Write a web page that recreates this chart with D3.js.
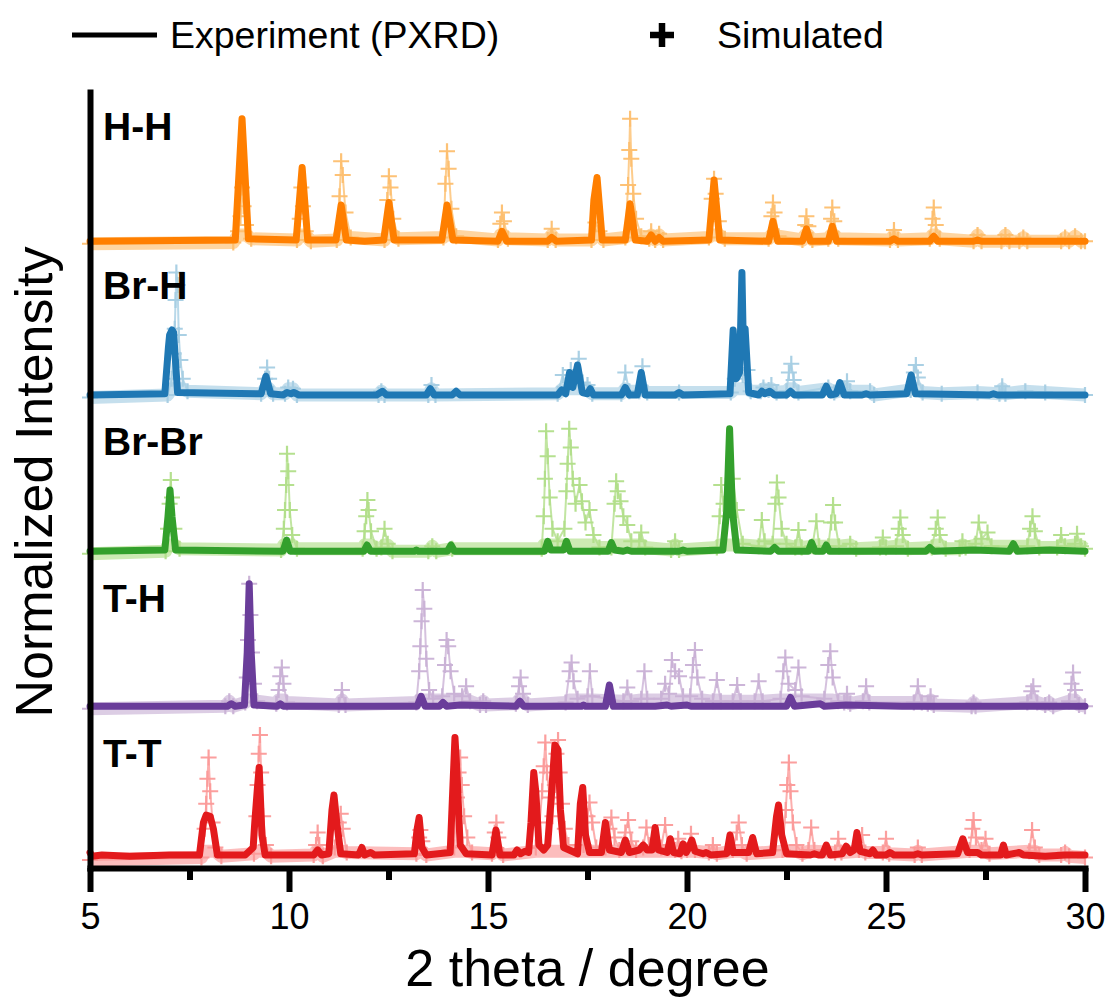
<!DOCTYPE html>
<html><head><meta charset="utf-8">
<script src="https://cdn.jsdelivr.net/npm/d3@7"></script>
<style>
body{margin:0;background:#fff}
text{font-family:"Liberation Sans",Arial,Helvetica,sans-serif;fill:#000}
</style>
</head><body>
<svg id="chart" width="1109" height="1007"></svg>
<script>
// PXRD patterns, 2θ (degree) vs. normalized intensity, one pair per compound.
const panelNames = ["H-H", "Br-H", "Br-Br", "T-H", "T-T"];
const panelOffsets = [4.93, 3.70, 2.45, 1.21, 0];
const xTicks = [5, 10, 15, 20, 25, 30];
const xMinorTicks = [7.5, 12.5, 17.5, 22.5, 27.5];

const hhExp = [[5,0.02],[8.65,0.03],[8.82,1.0],[8.98,0.04],[10.18,0.03],[10.33,0.61],[10.47,0.03],[11.18,0.03],[11.31,0.31],[11.44,0.03],[11.9,0.02],[12.38,0.03],[12.51,0.33],[12.64,0.03],[13.84,0.03],[13.97,0.31],[14.12,0.03],[15.25,0.02],[15.35,0.1],[15.47,0.02],[16.5,0.02],[16.6,0.05],[16.72,0.02],[17.6,0.03],[17.66,0.35],[17.74,0.53],[17.87,0.03],[18.45,0.03],[18.57,0.32],[18.7,0.03],[19.0,0.02],[19.1,0.07],[19.2,0.02],[19.3,0.05],[19.4,0.02],[20.55,0.03],[20.68,0.51],[20.82,0.03],[22.05,0.02],[22.16,0.18],[22.28,0.02],[22.9,0.02],[23.0,0.12],[23.1,0.02],[23.55,0.02],[23.65,0.14],[23.76,0.02],[25.1,0.02],[25.2,0.04],[25.3,0.02],[26.1,0.02],[26.2,0.06],[26.3,0.02],[27.2,0.02],[27.3,0.03],[27.4,0.02],[30,0.02]];
const hhSim = [[5,0],[8.6,0.01],[8.72,0.1],[8.78,0.22],[8.82,0.45],[8.86,0.3],[8.92,0.15],[9.05,0.04],[10.2,0.03],[10.27,0.2],[10.31,0.45],[10.35,0.3],[10.42,0.1],[10.55,0.02],[11.2,0.03],[11.27,0.38],[11.31,0.66],[11.35,0.55],[11.42,0.25],[11.55,0.05],[12.4,0.03],[12.47,0.35],[12.51,0.54],[12.55,0.45],[12.62,0.2],[12.75,0.04],[13.88,0.05],[13.93,0.48],[13.97,0.74],[14.01,0.6],[14.08,0.28],[14.2,0.06],[15.25,0.03],[15.31,0.16],[15.35,0.25],[15.4,0.18],[15.5,0.04],[16.5,0.03],[16.6,0.12],[16.7,0.03],[17.6,0.03],[17.7,0.17],[17.8,0.1],[17.9,0.03],[18.45,0.05],[18.52,0.47],[18.55,0.75],[18.57,1.0],[18.6,0.68],[18.65,0.4],[18.72,0.2],[18.85,0.06],[19.05,0.04],[19.1,0.1],[19.2,0.03],[19.3,0.08],[19.4,0.03],[20.55,0.05],[20.62,0.36],[20.68,0.52],[20.72,0.4],[20.8,0.18],[20.95,0.04],[22.05,0.04],[22.12,0.22],[22.16,0.33],[22.2,0.25],[22.3,0.06],[22.9,0.03],[22.97,0.15],[23.0,0.22],[23.05,0.14],[23.15,0.03],[23.55,0.04],[23.62,0.2],[23.65,0.29],[23.7,0.18],[23.8,0.04],[25.1,0.03],[25.2,0.11],[25.3,0.03],[26.1,0.04],[26.17,0.2],[26.2,0.29],[26.25,0.15],[26.35,0.04],[27.2,0.02],[27.3,0.07],[27.4,0.02],[27.9,0.02],[28.0,0.07],[28.1,0.02],[28.35,0.02],[28.45,0.05],[28.55,0.02],[29.4,0.02],[29.5,0.05],[29.6,0.02],[29.75,0.06],[29.9,0.02],[30,0.02]];

const brhExp = [[5,0.02],[6.88,0.03],[6.97,0.4],[7.0,0.5],[7.06,0.54],[7.1,0.52],[7.2,0.04],[9.3,0.03],[9.42,0.17],[9.54,0.03],[9.85,0.02],[9.95,0.04],[10.05,0.03],[10.12,0.04],[10.25,0.02],[12.2,0.02],[12.35,0.05],[12.45,0.02],[13.45,0.02],[13.55,0.07],[13.65,0.02],[14.1,0.02],[14.2,0.05],[14.3,0.02],[16.75,0.02],[16.85,0.06],[16.95,0.03],[17.05,0.2],[17.13,0.08],[17.25,0.26],[17.37,0.04],[17.5,0.03],[17.57,0.07],[17.65,0.02],[18.35,0.02],[18.45,0.08],[18.55,0.02],[18.75,0.02],[18.85,0.2],[18.95,0.02],[19.7,0.02],[19.8,0.04],[19.9,0.02],[21.08,0.03],[21.16,0.54],[21.24,0.15],[21.32,0.2],[21.38,1.0],[21.42,0.35],[21.46,0.55],[21.55,0.04],[21.8,0.02],[21.88,0.05],[21.95,0.03],[22.08,0.05],[22.2,0.02],[22.5,0.02],[22.6,0.05],[22.7,0.02],[23.4,0.02],[23.5,0.09],[23.6,0.02],[23.75,0.03],[23.84,0.12],[23.95,0.02],[24.4,0.02],[24.5,0.03],[24.6,0.02],[25.52,0.03],[25.63,0.18],[25.74,0.03],[27.6,0.02],[27.7,0.03],[27.8,0.02],[30,0.02]];
const brhSim = [[5,0],[6.95,0.02],[7.05,0.15],[7.1,0.35],[7.13,0.55],[7.15,0.78],[7.17,1.0],[7.2,0.9],[7.23,0.5],[7.27,0.3],[7.33,0.15],[7.45,0.05],[9.3,0.03],[9.4,0.15],[9.45,0.24],[9.5,0.15],[9.6,0.03],[9.9,0.03],[9.98,0.08],[10.1,0.07],[10.2,0.02],[12.25,0.02],[12.32,0.05],[12.4,0.02],[13.5,0.02],[13.58,0.1],[13.68,0.02],[16.75,0.03],[16.88,0.18],[16.98,0.08],[17.08,0.22],[17.18,0.15],[17.28,0.31],[17.38,0.12],[17.5,0.1],[17.62,0.03],[18.35,0.03],[18.45,0.2],[18.55,0.05],[18.8,0.05],[18.88,0.25],[19.0,0.04],[19.8,0.04],[21.1,0.04],[21.2,0.15],[21.4,0.18],[21.52,0.22],[21.6,0.05],[21.85,0.05],[21.92,0.08],[22.05,0.06],[22.12,0.1],[22.25,0.04],[22.5,0.05],[22.56,0.2],[22.62,0.27],[22.68,0.14],[22.8,0.04],[23.55,0.08],[23.7,0.04],[23.95,0.06],[24.02,0.13],[24.1,0.05],[24.6,0.05],[24.7,0.02],[25.62,0.06],[25.7,0.2],[25.75,0.26],[25.8,0.16],[25.92,0.04],[26.4,0.03],[27.3,0.04],[27.85,0.03],[27.92,0.09],[28.0,0.03],[28.5,0.05],[29.0,0.04],[30,0.02]];

const brbrExp = [[5,0.02],[6.88,0.03],[6.96,0.3],[7.01,0.51],[7.06,0.3],[7.15,0.03],[9.85,0.02],[9.94,0.11],[10.03,0.02],[11.88,0.02],[11.96,0.07],[12.05,0.02],[13.15,0.02],[13.2,0.03],[13.25,0.02],[13.98,0.02],[14.07,0.07],[14.16,0.02],[16.42,0.02],[16.5,0.1],[16.58,0.03],[16.9,0.03],[16.97,0.1],[17.06,0.02],[18.02,0.02],[18.1,0.09],[18.18,0.03],[18.4,0.02],[18.5,0.03],[18.6,0.02],[19.8,0.02],[19.9,0.03],[20.0,0.02],[20.9,0.03],[21.0,0.35],[21.07,1.0],[21.14,0.35],[21.25,0.03],[22.1,0.02],[22.2,0.05],[22.3,0.02],[23.05,0.02],[23.13,0.09],[23.22,0.02],[23.42,0.02],[23.5,0.07],[23.58,0.02],[25.1,0.02],[25.2,0.02],[26.0,0.02],[26.1,0.05],[26.2,0.02],[27.2,0.03],[28.1,0.02],[28.2,0.08],[28.3,0.02],[29.1,0.03],[30,0.02]];
const brbrSim = [[5,0],[6.9,0.02],[6.96,0.2],[7.0,0.4],[7.03,0.59],[7.06,0.45],[7.12,0.2],[7.25,0.04],[9.8,0.03],[9.87,0.2],[9.9,0.35],[9.93,0.55],[9.95,0.8],[9.98,0.66],[10.02,0.35],[10.08,0.15],[10.2,0.04],[11.85,0.04],[11.9,0.18],[11.94,0.3],[11.97,0.43],[12.0,0.35],[12.06,0.18],[12.2,0.04],[12.32,0.05],[12.4,0.2],[12.48,0.08],[12.6,0.02],[13.5,0.02],[13.6,0.06],[13.7,0.02],[14.1,0.04],[16.35,0.04],[16.4,0.3],[16.43,0.6],[16.46,0.98],[16.5,0.78],[16.55,0.45],[16.62,0.2],[16.75,0.1],[16.92,0.2],[16.97,0.5],[17.0,0.72],[17.04,1.0],[17.08,0.85],[17.13,0.6],[17.2,0.4],[17.3,0.55],[17.36,0.42],[17.45,0.25],[17.55,0.35],[17.65,0.15],[17.8,0.05],[18.1,0.05],[18.18,0.4],[18.22,0.58],[18.26,0.5],[18.33,0.42],[18.4,0.3],[18.5,0.23],[18.6,0.1],[18.8,0.1],[18.85,0.17],[18.95,0.05],[19.6,0.03],[19.7,0.1],[19.8,0.03],[20.75,0.05],[20.82,0.3],[20.86,0.55],[20.92,0.4],[21.0,0.3],[21.15,0.6],[21.25,0.35],[21.4,0.08],[21.8,0.06],[21.88,0.27],[21.95,0.1],[22.15,0.08],[22.22,0.4],[22.26,0.57],[22.3,0.45],[22.38,0.2],[22.5,0.08],[22.72,0.05],[22.8,0.19],[22.88,0.05],[23.15,0.06],[23.25,0.26],[23.32,0.06],[23.55,0.06],[23.62,0.25],[23.67,0.39],[23.72,0.25],[23.82,0.06],[24.1,0.08],[24.25,0.04],[24.85,0.05],[24.92,0.13],[25.0,0.05],[25.25,0.06],[25.32,0.2],[25.36,0.29],[25.42,0.15],[25.55,0.04],[26.15,0.05],[26.25,0.2],[26.3,0.29],[26.35,0.15],[26.5,0.04],[26.85,0.04],[26.92,0.1],[27.0,0.05],[27.25,0.08],[27.33,0.25],[27.4,0.12],[27.55,0.17],[27.65,0.06],[28.55,0.06],[28.62,0.2],[28.68,0.3],[28.74,0.18],[28.85,0.05],[29.3,0.05],[29.4,0.15],[29.5,0.06],[29.75,0.08],[29.8,0.16],[29.9,0.06],[30,0.04]];

const thExp = [[5,0.02],[8.45,0.02],[8.55,0.04],[8.65,0.02],[8.88,0.03],[8.95,0.45],[9.0,1.0],[9.05,0.45],[9.12,0.03],[9.7,0.02],[9.78,0.04],[9.86,0.02],[11.25,0.02],[11.3,0.02],[13.22,0.02],[13.32,0.1],[13.42,0.02],[13.78,0.02],[13.87,0.05],[13.96,0.02],[14.3,0.03],[15.7,0.02],[15.8,0.06],[15.9,0.02],[17.35,0.02],[17.4,0.03],[17.45,0.02],[17.95,0.02],[18.05,0.19],[18.15,0.02],[19.2,0.02],[19.5,0.03],[19.6,0.02],[20.0,0.03],[20.1,0.02],[22.5,0.02],[22.6,0.09],[22.7,0.02],[23.35,0.04],[23.45,0.02],[24.0,0.03],[25.4,0.02],[27.2,0.02],[30,0.02]];
const thSim = [[5,0],[8.4,0.02],[8.5,0.06],[8.6,0.02],[8.9,0.05],[8.94,0.25],[8.97,0.55],[9.0,1.0],[9.03,0.75],[9.07,0.45],[9.12,0.2],[9.2,0.06],[9.68,0.04],[9.74,0.15],[9.78,0.26],[9.82,0.33],[9.86,0.2],[9.95,0.05],[11.25,0.03],[11.33,0.15],[11.42,0.03],[13.2,0.05],[13.27,0.3],[13.3,0.5],[13.33,0.7],[13.36,0.95],[13.4,0.8],[13.45,0.4],[13.52,0.15],[13.62,0.08],[13.85,0.1],[13.92,0.35],[13.96,0.55],[14.0,0.5],[14.06,0.3],[14.15,0.12],[14.35,0.1],[14.45,0.18],[14.55,0.06],[14.8,0.03],[14.88,0.06],[14.95,0.03],[15.7,0.04],[15.78,0.18],[15.82,0.25],[15.88,0.12],[16.0,0.03],[16.95,0.05],[17.05,0.3],[17.1,0.37],[17.15,0.22],[17.25,0.08],[17.5,0.1],[17.56,0.3],[17.62,0.1],[18.4,0.06],[18.5,0.17],[18.6,0.06],[18.85,0.08],[18.93,0.3],[19.0,0.08],[19.35,0.08],[19.45,0.2],[19.55,0.12],[19.62,0.39],[19.7,0.3],[19.8,0.26],[19.9,0.1],[20.08,0.1],[20.15,0.35],[20.2,0.47],[20.26,0.25],[20.38,0.08],[20.65,0.06],[20.75,0.23],[20.85,0.06],[21.15,0.06],[21.26,0.19],[21.35,0.06],[21.7,0.06],[21.8,0.22],[21.9,0.06],[22.35,0.08],[22.42,0.3],[22.47,0.41],[22.55,0.2],[22.72,0.15],[22.8,0.33],[22.88,0.1],[23.45,0.08],[23.55,0.35],[23.6,0.46],[23.66,0.25],[23.8,0.06],[23.95,0.05],[24.02,0.12],[24.1,0.04],[24.42,0.06],[24.5,0.18],[24.58,0.05],[25.7,0.05],[25.8,0.18],[25.9,0.05],[26.05,0.04],[26.12,0.1],[26.2,0.03],[27.15,0.02],[27.2,0.05],[27.25,0.02],[28.55,0.05],[28.65,0.14],[28.7,0.18],[28.8,0.05],[29.0,0.03],[29.1,0.05],[29.2,0.02],[29.6,0.06],[29.66,0.2],[29.7,0.29],[29.75,0.15],[29.85,0.03],[30,0.02]];

const ttExp = [[5,0.06],[5.05,0.03],[5.3,0.04],[6.0,0.03],[7.0,0.04],[7.75,0.04],[7.85,0.3],[7.92,0.36],[8.02,0.35],[8.1,0.25],[8.2,0.04],[8.9,0.04],[9.1,0.1],[9.14,0.3],[9.2,0.55],[9.25,0.74],[9.32,0.2],[9.4,0.04],[10.62,0.04],[10.72,0.08],[10.82,0.04],[11.0,0.05],[11.08,0.4],[11.13,0.52],[11.2,0.3],[11.3,0.05],[11.75,0.04],[11.83,0.1],[11.9,0.04],[12.05,0.06],[12.15,0.04],[13.15,0.05],[13.22,0.25],[13.27,0.34],[13.34,0.1],[13.45,0.04],[14.05,0.06],[14.12,0.6],[14.17,0.98],[14.22,0.7],[14.3,0.12],[14.45,0.05],[15.1,0.04],[15.2,0.24],[15.3,0.04],[15.65,0.04],[15.73,0.08],[15.82,0.05],[15.93,0.07],[16.02,0.06],[16.08,0.3],[16.15,0.7],[16.2,0.55],[16.28,0.12],[16.4,0.08],[16.5,0.12],[16.6,0.55],[16.68,0.92],[16.76,0.88],[16.82,0.4],[16.9,0.1],[17.25,0.05],[17.32,0.45],[17.38,0.58],[17.45,0.2],[17.55,0.06],[17.85,0.06],[17.95,0.3],[18.05,0.08],[18.35,0.06],[18.45,0.16],[18.55,0.06],[18.8,0.08],[18.9,0.12],[19.0,0.08],[19.12,0.08],[19.2,0.26],[19.28,0.08],[19.5,0.06],[19.58,0.17],[19.66,0.06],[19.82,0.05],[19.9,0.13],[19.98,0.06],[20.05,0.1],[20.12,0.16],[20.2,0.07],[20.4,0.05],[20.48,0.06],[20.6,0.04],[21.0,0.05],[21.08,0.2],[21.16,0.06],[21.55,0.06],[21.65,0.18],[21.75,0.05],[22.15,0.06],[22.25,0.35],[22.3,0.44],[22.38,0.2],[22.5,0.05],[23.1,0.04],[23.2,0.05],[23.3,0.04],[23.4,0.04],[23.5,0.12],[23.6,0.04],[23.9,0.05],[24.0,0.11],[24.1,0.06],[24.2,0.08],[24.27,0.22],[24.35,0.07],[24.6,0.05],[24.67,0.08],[24.75,0.04],[25.0,0.04],[25.1,0.06],[25.2,0.04],[25.7,0.04],[25.8,0.05],[25.9,0.04],[26.8,0.05],[26.93,0.17],[27.05,0.06],[27.3,0.06],[27.4,0.04],[27.88,0.04],[27.95,0.12],[28.02,0.04],[28.35,0.06],[28.45,0.04],[29.0,0.03],[29.5,0.04],[30,0.04]];
const ttSim = [[5,0],[7.8,0.02],[7.88,0.25],[7.92,0.45],[7.95,0.65],[7.98,0.82],[8.02,0.55],[8.08,0.3],[8.15,0.1],[8.3,0.03],[9.12,0.05],[9.18,0.35],[9.21,0.6],[9.24,0.85],[9.27,1.0],[9.3,0.7],[9.35,0.35],[9.42,0.12],[9.55,0.03],[10.62,0.04],[10.68,0.12],[10.72,0.22],[10.76,0.12],[10.85,0.03],[11.15,0.1],[11.25,0.3],[11.3,0.37],[11.35,0.25],[11.45,0.06],[13.2,0.05],[13.27,0.18],[13.3,0.24],[13.35,0.15],[13.45,0.04],[14.15,0.1],[14.22,0.5],[14.26,0.7],[14.3,0.82],[14.34,0.6],[14.4,0.35],[14.48,0.18],[14.6,0.06],[15.1,0.05],[15.17,0.22],[15.21,0.3],[15.26,0.18],[15.38,0.04],[16.2,0.1],[16.3,0.3],[16.36,0.55],[16.4,0.75],[16.44,0.94],[16.48,0.7],[16.55,0.5],[16.62,0.35],[16.68,0.6],[16.72,0.85],[16.76,0.96],[16.8,0.7],[16.86,0.45],[16.93,0.25],[17.02,0.12],[17.4,0.12],[17.5,0.35],[17.55,0.46],[17.62,0.3],[17.72,0.1],[17.95,0.1],[18.05,0.25],[18.1,0.34],[18.18,0.18],[18.3,0.08],[18.45,0.22],[18.52,0.32],[18.6,0.15],[18.72,0.08],[18.9,0.1],[18.98,0.26],[19.05,0.12],[19.35,0.1],[19.45,0.28],[19.52,0.12],[19.7,0.08],[19.78,0.17],[19.86,0.07],[20.0,0.08],[20.1,0.21],[20.2,0.08],[20.55,0.06],[20.65,0.12],[20.75,0.05],[21.15,0.08],[21.25,0.22],[21.3,0.3],[21.38,0.12],[21.5,0.05],[22.4,0.08],[22.48,0.4],[22.52,0.6],[22.56,0.78],[22.6,0.55],[22.66,0.3],[22.75,0.12],[22.9,0.05],[23.05,0.08],[23.12,0.26],[23.2,0.08],[23.72,0.06],[23.8,0.17],[23.88,0.06],[24.32,0.08],[24.4,0.2],[24.48,0.06],[24.92,0.06],[25.0,0.17],[25.08,0.05],[25.72,0.04],[25.8,0.1],[25.9,0.04],[27.1,0.08],[27.17,0.25],[27.2,0.32],[27.26,0.18],[27.4,0.08],[27.5,0.17],[27.6,0.05],[28.6,0.07],[28.67,0.24],[28.74,0.1],[28.85,0.04],[29.4,0.04],[29.5,0.06],[29.6,0.03],[30,0.02]];

const experimentSeries = [hhExp, brhExp, brbrExp, thExp, ttExp];
const simulatedSeries = [hhSim, brhSim, brbrSim, thSim, ttSim];

// Paired palette: dark tone for measured, light tone for simulated
const expColors = ["#ff7f00", "#1f78b4", "#33a02c", "#6a3d9a", "#e31a1c"];
const simColors = ["#fdbf6f", "#a6cee3", "#b2df8a", "#cab2d6", "#fb9a99"];

const svg = d3.select("#chart");
const plotLeft = 90, plotRight = 1085, plotTop = 92, plotBottom = 868;
// the soft background band only follows the low part of the simulated profile
const bandCap = 0.07;

const x = d3.scaleLinear().domain([5, 30]).range([plotLeft, plotRight]);
const y = d3.scaleLinear().domain([-0.064, 6.144]).range([plotBottom, plotTop]);

const plot = svg.append("g");

panelNames.forEach((name, i) => {
  const off = panelOffsets[i];
  const line = d3.line().x(d => x(d[0])).y(d => y(d[1] + off));
  const bandLine = d3.line().x(d => x(d[0])).y(d => y(Math.min(d[1], bandCap) + off));
  const g = plot.append("g");

  // simulated pattern: soft band, thin profile and "+" markers
  g.append("path")
    .datum(simulatedSeries[i])
    .attr("d", bandLine)
    .attr("fill", "none")
    .attr("stroke", simColors[i])
    .attr("stroke-width", 13)
    .attr("stroke-linejoin", "round")
    .attr("opacity", 0.65);

  g.append("path")
    .datum(simulatedSeries[i])
    .attr("d", line)
    .attr("fill", "none")
    .attr("stroke", simColors[i])
    .attr("stroke-width", 2)
    .attr("stroke-linejoin", "round")
    .attr("opacity", 0.8);

  g.append("g").selectAll("path")
    .data(simulatedSeries[i])
    .join("path")
    .attr("transform", d => `translate(${x(d[0])},${y(d[1] + off)})`)
    .attr("d", "M-8,0H8M0,-8V8")
    .attr("stroke", simColors[i])
    .attr("stroke-width", 2.2)
    .attr("opacity", 0.95);

  // measured pattern
  g.append("path")
    .datum(experimentSeries[i])
    .attr("d", line)
    .attr("fill", "none")
    .attr("stroke", expColors[i])
    .attr("stroke-width", 7)
    .attr("stroke-linejoin", "round")
    .attr("stroke-linecap", "round");
});

// panel labels
const labelBaselines = [140, 299, 455, 612, 767];
panelNames.forEach((name, i) => {
  svg.append("text")
    .attr("x", 103)
    .attr("y", labelBaselines[i])
    .attr("font-size", 39)
    .attr("font-weight", "bold")
    .text(name);
});

// x axis: major and minor ticks
const xAxis = svg.append("g")
  .attr("transform", `translate(0,${plotBottom})`)
  .call(d3.axisBottom(x).tickValues(xTicks).tickSize(24).tickSizeOuter(0).tickPadding(11).tickFormat(d3.format("d")));
xAxis.select(".domain").attr("stroke", "#000").attr("stroke-width", 6).attr("stroke-linecap", "square");
xAxis.selectAll(".tick line").attr("stroke", "#000").attr("stroke-width", 6);
xAxis.selectAll(".tick text").attr("font-size", 36).attr("font-family", "Liberation Sans, Arial, sans-serif").attr("fill", "#000");

const xMinor = svg.append("g")
  .attr("transform", `translate(0,${plotBottom})`)
  .call(d3.axisBottom(x).tickValues(xMinorTicks).tickSize(12).tickSizeOuter(0).tickFormat(""));
xMinor.select(".domain").remove();
xMinor.selectAll(".tick line").attr("stroke", "#000").attr("stroke-width", 6);

// y axis: plain spine
const yAxis = svg.append("g")
  .attr("transform", `translate(${plotLeft},0)`)
  .call(d3.axisLeft(y).tickValues([]).tickSizeOuter(0));
yAxis.select(".domain").attr("stroke", "#000").attr("stroke-width", 6).attr("stroke-linecap", "square");

// axis titles
svg.append("text")
  .attr("x", (plotLeft + plotRight) / 2)
  .attr("y", 986)
  .attr("text-anchor", "middle")
  .attr("font-size", 52)
  .text("2 theta / degree");

svg.append("text")
  .attr("transform", "translate(52,482) rotate(-90)")
  .attr("text-anchor", "middle")
  .attr("font-size", 52)
  .text("Normalized Intensity");

// legend
const legend = svg.append("g");
legend.append("line")
  .attr("x1", 72).attr("x2", 157).attr("y1", 35).attr("y2", 35)
  .attr("stroke", "#000").attr("stroke-width", 5);
legend.append("text").attr("x", 170).attr("y", 48).attr("font-size", 37.5).text("Experiment (PXRD)");
legend.append("path")
  .attr("transform", "translate(662,35)")
  .attr("d", "M-12,0H12M0,-12V12")
  .attr("stroke", "#000").attr("stroke-width", 6.5);
legend.append("text").attr("x", 717).attr("y", 48).attr("font-size", 37.5).text("Simulated");
</script>
</body></html>
